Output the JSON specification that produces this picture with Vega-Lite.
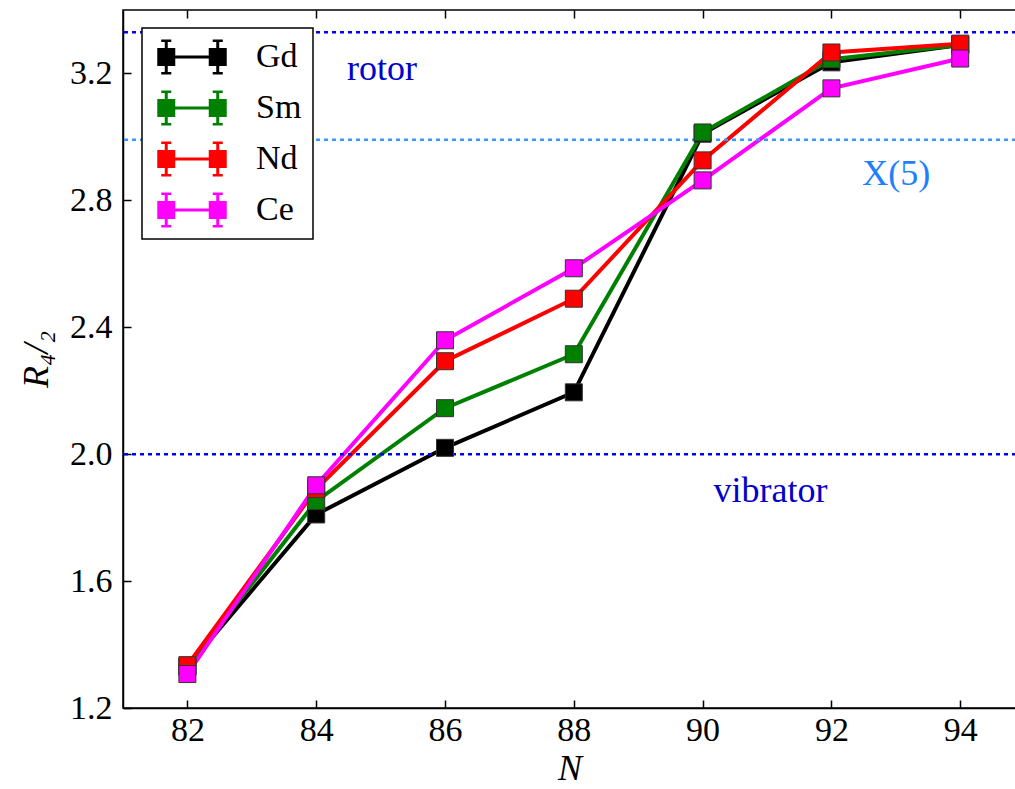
{
  "$schema": "https://vega.github.io/schema/vega-lite/v6.json",
  "width": 893,
  "height": 698,
  "autosize": {"type": "none"},
  "padding": {"left": 123, "top": 10, "right": 0, "bottom": 81},
  "config": {
    "view": {"stroke": "black", "strokeWidth": 1.5},
    "font": "Liberation Serif",
    "axis": {"grid": false, "domainColor": "black", "domainWidth": 1.5, "tickColor": "black", "tickWidth": 1.5, "tickSize": -8, "labelColor": "black", "labelFont": "Liberation Serif", "labelFontSize": 34, "titleFont": "Liberation Serif", "titleFontWeight": "normal", "titleFontStyle": "italic", "titleFontSize": 36, "titleColor": "black"}
  },
  "datasets": {
    "series": [
      {"element": "Gd", "N": 82, "R": 1.33}, {"element": "Gd", "N": 84, "R": 1.81}, {"element": "Gd", "N": 86, "R": 2.02}, {"element": "Gd", "N": 88, "R": 2.195}, {"element": "Gd", "N": 90, "R": 3.01}, {"element": "Gd", "N": 92, "R": 3.235}, {"element": "Gd", "N": 94, "R": 3.29},
      {"element": "Sm", "N": 82, "R": 1.33}, {"element": "Sm", "N": 84, "R": 1.852}, {"element": "Sm", "N": 86, "R": 2.145}, {"element": "Sm", "N": 88, "R": 2.315}, {"element": "Sm", "N": 90, "R": 3.014}, {"element": "Sm", "N": 92, "R": 3.245}, {"element": "Sm", "N": 94, "R": 3.29},
      {"element": "Nd", "N": 82, "R": 1.335}, {"element": "Nd", "N": 84, "R": 1.89}, {"element": "Nd", "N": 86, "R": 2.293}, {"element": "Nd", "N": 88, "R": 2.49}, {"element": "Nd", "N": 90, "R": 2.926}, {"element": "Nd", "N": 92, "R": 3.266}, {"element": "Nd", "N": 94, "R": 3.294},
      {"element": "Ce", "N": 82, "R": 1.307}, {"element": "Ce", "N": 84, "R": 1.902}, {"element": "Ce", "N": 86, "R": 2.359}, {"element": "Ce", "N": 88, "R": 2.586}, {"element": "Ce", "N": 90, "R": 2.863}, {"element": "Ce", "N": 92, "R": 3.153}, {"element": "Ce", "N": 94, "R": 3.247}
    ],
    "refs": [
      {"limit": "rotor", "R": 3.33},
      {"limit": "X(5)", "R": 2.991},
      {"limit": "vibrator", "R": 2.0}
    ],
    "notes": [
      {"limit": "rotor", "N": 84.48, "R": 3.178},
      {"limit": "X(5)", "N": 92.48, "R": 2.847},
      {"limit": "vibrator", "N": 90.17, "R": 1.849}
    ]
  },
  "encoding": {
    "y": {"field": "R", "type": "quantitative", "scale": {"domain": [1.2, 3.4], "nice": false, "zero": false},
      "axis": {"orient": "left", "values": [1.2, 1.6, 2.0, 2.4, 2.8, 3.2], "format": ".1f", "title": "R₄/₂", "labelPadding": 19, "titlePadding": 14}}
  },
  "layer": [
    {
      "data": {"name": "series"},
      "mark": {"type": "line", "strokeWidth": 4},
      "encoding": {
        "x": {"field": "N", "type": "quantitative", "scale": {"domain": [81, 94.866], "nice": false, "zero": false},
          "axis": {"orient": "bottom", "values": [82, 84, 86, 88, 90, 92, 94], "title": "N", "labelPadding": 13, "titlePadding": 4}},
        "color": {"field": "element", "type": "nominal",
          "scale": {"domain": ["Gd", "Sm", "Nd", "Ce"], "range": ["#000000", "#008000", "#ff0000", "#ff00ff"]},
          "legend": {
            "orient": "none", "legendX": 19, "legendY": 18, "title": null,
            "fillColor": "white", "strokeColor": "black", "padding": 11,
            "labelFont": "Liberation Serif", "labelFontSize": 34, "labelColor": "black", "labelOffset": 46,
            "labelExpr": "datum.label + '\u00a0'",
            "rowPadding": 15, "symbolOffset": 21,
            "symbolType": "M-1.93,-0.5H-0.93V0.5H-1.93ZM0.93,-0.5H1.93V0.5H0.93ZM-0.93,-0.083H0.93V0.083H-0.93ZM-1.513,-0.97H-1.347V0.97H-1.513ZM-1.71,-0.97H-1.15V-0.83H-1.71ZM-1.71,0.83H-1.15V0.97H-1.71ZM1.347,-0.97H1.513V0.97H1.347ZM1.15,-0.97H1.71V-0.83H1.15ZM1.15,0.83H1.71V0.97H1.15Z",
            "symbolSize": 1296, "symbolStrokeWidth": 0, "symbolOpacity": 1,
            "encode": {
              "legend": {"update": {"strokeWidth": {"value": 1.5}}},
              "symbols": {"update": {"fill": {"scale": "color", "field": "value"}, "stroke": {"value": "transparent"}}}
            }
          }}
      }
    },
    {
      "data": {"name": "refs"},
      "mark": {"type": "rule", "strokeWidth": 2.5, "strokeDash": [4, 4]},
      "encoding": {
        "stroke": {"field": "limit", "type": "nominal", "scale": {"domain": ["rotor", "X(5)", "vibrator"], "range": ["#0000ee", "#3399ff", "#0000ee"]}, "legend": null}
      }
    },
    {
      "data": {"name": "series"},
      "mark": {"type": "point", "shape": "square", "filled": true, "size": 289, "opacity": 1, "stroke": "#333333", "strokeWidth": 1},
      "encoding": {
        "x": {"field": "N", "type": "quantitative", "axis": null},
        "color": {"field": "element", "type": "nominal"}
      }
    },
    {
      "data": {"name": "notes"},
      "mark": {"type": "text", "align": "left", "baseline": "alphabetic", "font": "Liberation Serif", "fontSize": 36},
      "encoding": {
        "x": {"field": "N", "type": "quantitative", "axis": {"orient": "top", "values": [82, 84, 86, 88, 90, 92, 94], "labels": false, "domain": false, "title": null}},
        "text": {"field": "limit"},
        "fill": {"field": "limit", "type": "nominal", "scale": {"domain": ["rotor", "X(5)", "vibrator"], "range": ["#0000cc", "#1e7fff", "#0000cc"]}, "legend": null}
      }
    }
  ]
}
